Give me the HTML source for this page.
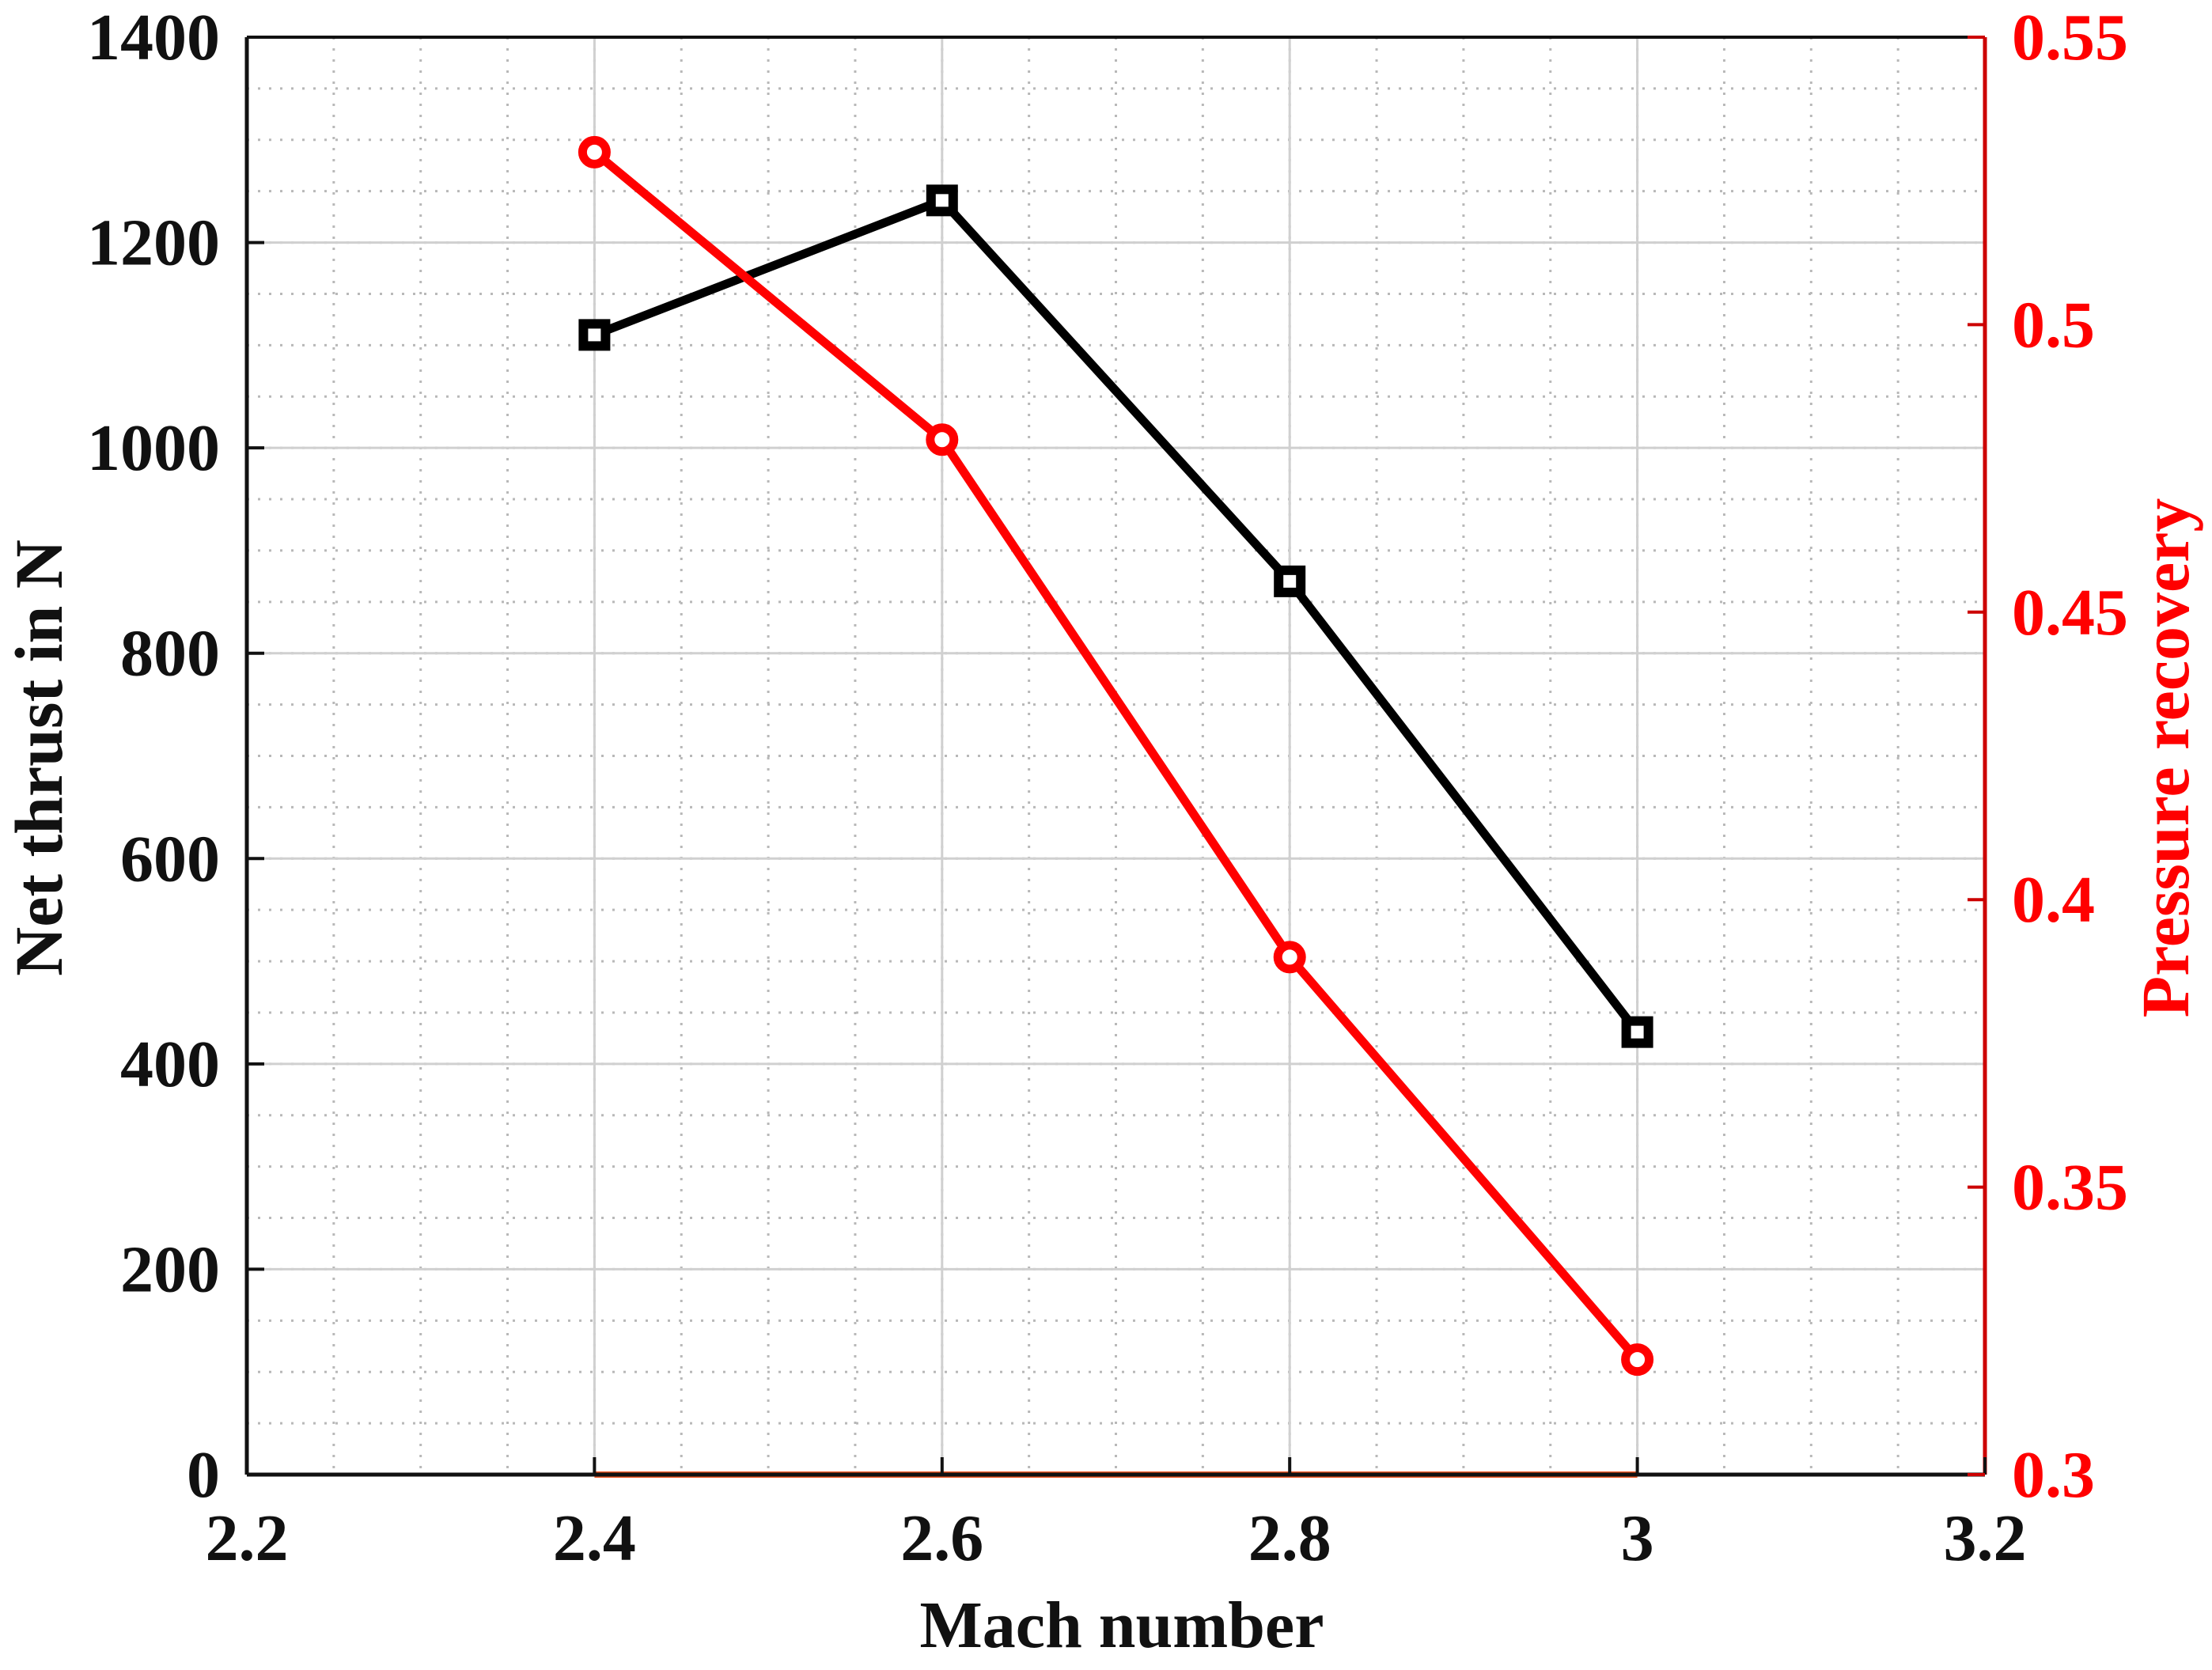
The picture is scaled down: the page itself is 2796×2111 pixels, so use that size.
<!DOCTYPE html>
<html><head><meta charset="utf-8"><style>
html,body{margin:0;padding:0;background:#fff;}
svg{display:block;}
text{font-family:"Liberation Serif",serif;font-weight:bold;}
</style></head><body>
<svg id="chart" width="2796" height="2111" viewBox="0 0 2796 2111" xmlns="http://www.w3.org/2000/svg">
<g id="grid"></g>
<g id="series"></g>
<g id="axes"></g>
<text x="1418" y="2082" font-size="84" text-anchor="middle" fill="#111">Mach number</text>
<text transform="translate(78,958) rotate(-90)" font-size="86" text-anchor="middle" fill="#111">Net thrust in N</text>
<text transform="translate(2766,958) rotate(-90)" font-size="86" text-anchor="middle" fill="#ff0000">Pressure recovery</text>
</svg>
<script>
const machValues = [2.4, 2.6, 2.8, 3.0];
const thrustValues = [1110, 1241, 870, 431];
const pressureValues = [0.53, 0.48, 0.39, 0.32];
const baselineValues = [0, 0, 0, 0];
const xTicks = [2.2, 2.4, 2.6, 2.8, 3.0, 3.2];
const xTickLabels = ["2.2", "2.4", "2.6", "2.8", "3", "3.2"];
const yLeftTicks = [0, 200, 400, 600, 800, 1000, 1200, 1400];
const yRightTicks = [0.3, 0.35, 0.4, 0.45, 0.5, 0.55];
const yRightTickLabels = ["0.3", "0.35", "0.4", "0.45", "0.5", "0.55"];

const L = 312, R = 2509, T = 47, B = 1864;
const NS = "http://www.w3.org/2000/svg";
function xs(v){ return L + (v - 2.2) / 1.0 * (R - L); }
function yl(v){ return B - v / 1400 * (B - T); }
function yr(v){ return B - (v - 0.3) / 0.25 * (B - T); }
function mk(tag, attrs, parent){
  const e = document.createElementNS(NS, tag);
  for (const k in attrs) e.setAttribute(k, attrs[k]);
  parent.appendChild(e); return e;
}
const grid = document.getElementById('grid');
const series = document.getElementById('series');
const axes = document.getElementById('axes');

for (let v = 2.2; v <= 3.2001; v += 0.05) {
  const x = xs(v);
  const g = mk('line', {x1:x, y1:T, x2:x, y2:B, stroke:'#b8b8b8', 'stroke-width':3, 'stroke-dasharray':'3 11'}, grid);
  
  
}
for (let v = 0; v <= 1400; v += 50) {
  const y = yl(v);
  const g = mk('line', {x1:L, y1:y, x2:R, y2:y, stroke:'#b8b8b8', 'stroke-width':3, 'stroke-dasharray':'3 11'}, grid);
  
  
}
xTicks.forEach(v => {
  const g = mk('line', {x1:xs(v), y1:T, x2:xs(v), y2:B, stroke:'#d0d0d0', 'stroke-width':3}, grid);
  
  
});
yLeftTicks.forEach(v => {
  const g = mk('line', {x1:L, y1:yl(v), x2:R, y2:yl(v), stroke:'#d0d0d0', 'stroke-width':3}, grid);
  
  
});

function pts(vals, f){ return machValues.map((m,i)=> xs(m)+','+f(vals[i])).join(' '); }
const base = mk('polyline', {points:pts(baselineValues, yl), fill:'none', stroke:'#f05a28', 'stroke-width':8}, series);



const thr = mk('polyline', {points:pts(thrustValues, yl), fill:'none', stroke:'#000', 'stroke-width':11, 'stroke-linejoin':'round'}, series);


machValues.forEach((m,i) => {
  const s = mk('rect', {x:xs(m)-14, y:yl(thrustValues[i])-14, width:28, height:28, fill:'#fff', stroke:'#000', 'stroke-width':12}, series);
  
  
});

const pr = mk('polyline', {points:pts(pressureValues, yr), fill:'none', stroke:'#ff0000', 'stroke-width':11, 'stroke-linejoin':'round'}, series);


machValues.forEach((m,i) => {
  const c = mk('circle', {cx:xs(m), cy:yr(pressureValues[i]), r:15, fill:'#fff', stroke:'#ff0000', 'stroke-width':11}, series);
  
  
});

const topAx = mk('line', {x1:L, y1:T, x2:R, y2:T, stroke:'#111', 'stroke-width':4}, axes);


const botAx = mk('line', {x1:L, y1:B, x2:R, y2:B, stroke:'#111', 'stroke-width':5}, axes);


const leftAx = mk('line', {x1:L, y1:T, x2:L, y2:B, stroke:'#111', 'stroke-width':5}, axes);


const rightAx = mk('line', {x1:R, y1:T, x2:R, y2:B, stroke:'#cc0000', 'stroke-width':5}, axes);



xTicks.forEach((v,i) => {
  const tk = mk('line', {x1:xs(v), y1:B, x2:xs(v), y2:B-22, stroke:'#111', 'stroke-width':4}, axes);
  
  
  const t = mk('text', {x:xs(v), y:1972, 'font-size':84, 'text-anchor':'middle', fill:'#111'}, axes);
  t.textContent = xTickLabels[i];
  
  
});
yLeftTicks.forEach(v => {
  const tk = mk('line', {x1:L, y1:yl(v), x2:L+22, y2:yl(v), stroke:'#111', 'stroke-width':4}, axes);
  
  
  const t = mk('text', {x:278, y:yl(v)+28, 'font-size':84, 'text-anchor':'end', fill:'#111'}, axes);
  t.textContent = String(v);
  
  
});
yRightTicks.forEach((v,i) => {
  const tk = mk('line', {x1:R, y1:yr(v), x2:R-22, y2:yr(v), stroke:'#cc0000', 'stroke-width':4}, axes);
  
  
  const t = mk('text', {x:2543, y:yr(v)+28, 'font-size':84, 'text-anchor':'start', fill:'#ff0000'}, axes);
  t.textContent = yRightTickLabels[i];
  
  
});
</script>
</body></html>
